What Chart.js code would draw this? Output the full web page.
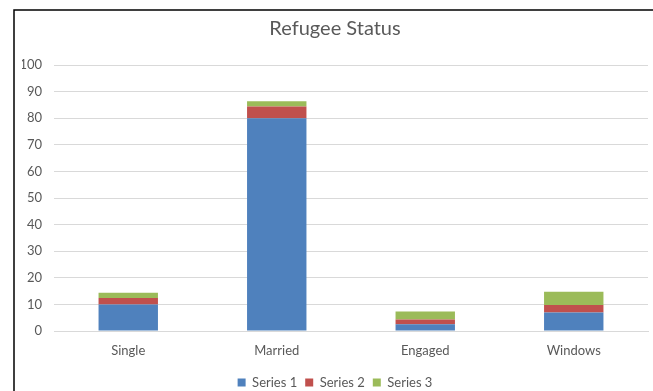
<!DOCTYPE html>
<html>
<head>
<meta charset="utf-8">
<script src="https://cdn.jsdelivr.net/npm/chart.js@4"></script>
<style>
  html, body { margin: 0; padding: 0; background: #fff; }
  #wrap { width: 653px; height: 391px; position: relative; }
</style>
</head>
<body>
<div id="wrap"><canvas id="statusChart"></canvas></div>
<script>
// categories and stacked series
const categories = ['Single', 'Married', 'Engaged', 'Windows'];
const series1 = [10, 80, 2.5, 7];
const series2 = [2.4, 4.4, 1.8, 2.8];
const series3 = [2, 2, 3, 5];
const seriesNames = ['Series 1', 'Series 2', 'Series 3'];
const seriesColors = ['#4f81bd', '#c0504d', '#9bbb59'];
const yTicks = [0, 10, 20, 30, 40, 50, 60, 70, 80, 90, 100];

const textGrey = '#595959';
const fontFamily = 'Lato, "Open Sans", sans-serif';

// frame around the chart (left + top edge only)
const framePlugin = {
    id: 'framePlugin',
    afterDraw(chart) {
        const ctx = chart.ctx;
        ctx.save();
        ctx.strokeStyle = '#000';
        ctx.lineWidth = 1.5;
        ctx.beginPath();
        ctx.moveTo(14, 391);
        ctx.lineTo(14, 10);
        ctx.lineTo(653, 10);
        ctx.stroke();
        ctx.restore();
    }
};

const datasets = [series1, series2, series3].map((vals, i) => ({
    label: seriesNames[i],
    data: vals,
    backgroundColor: seriesColors[i],
    borderWidth: 0,
    categoryPercentage: 1,
    barPercentage: 0.4
}));

new Chart(document.getElementById('statusChart'), {
    type: 'bar',
    data: { labels: categories, datasets: datasets },
    plugins: [framePlugin],
    options: {
        responsive: true,
        maintainAspectRatio: false,
        animation: false,
        layout: { padding: { left: 22, right: 5, top: 0, bottom: -8 } },
        scales: {
            x: {
                stacked: true,
                afterFit(axis) { axis.height = 37; },
                grid: { display: false, drawTicks: false },
                border: { display: true, color: '#d9d9d9', width: 1 },
                ticks: { color: textGrey, font: { family: fontFamily, size: 13 }, padding: 12 }
            },
            y: {
                stacked: true,
                min: 0,
                max: 100,
                afterBuildTicks(axis) { axis.ticks = yTicks.map(v => ({ value: v })); },
                afterFit(axis) { axis.width = 32; },
                grid: { color: '#d9d9d9', drawTicks: false },
                border: { display: false },
                ticks: { color: textGrey, font: { family: fontFamily, size: 13 }, padding: 12 }
            }
        },
        plugins: {
            title: {
                display: true,
                text: 'Refugee Status',
                color: textGrey,
                font: { family: fontFamily, size: 20, weight: 'normal' },
                padding: { top: 17, bottom: 24 }
            },
            legend: {
                position: 'bottom',
                labels: {
                    color: textGrey,
                    font: { family: fontFamily, size: 13 },
                    boxWidth: 8,
                    boxHeight: 8,
                    padding: 8
                }
            },
            tooltip: { enabled: false }
        }
    }
});
</script>
</body>
</html>
